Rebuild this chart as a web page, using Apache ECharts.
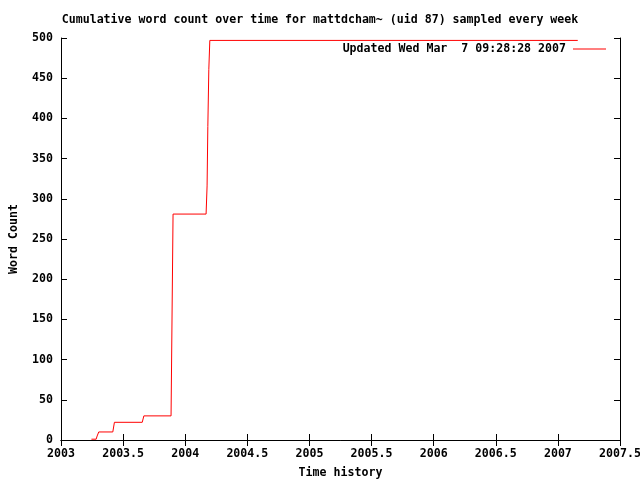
<!DOCTYPE html>
<html><head><meta charset="utf-8">
<script src="https://cdn.jsdelivr.net/npm/echarts@6/dist/echarts.min.js"></script>
<style>html,body{margin:0;padding:0;background:#fff}#c{width:640px;height:480px}</style>
</head><body><div id="c"></div>
<script>
var years = [2003.245, 2003.283, 2003.291, 2003.304, 2003.417, 2003.43, 2003.654, 2003.667, 2003.886, 2003.902, 2004.168, 2004.176, 2004.182, 2004.19, 2004.198, 2007.16];
var counts = [1, 1, 5, 10, 10, 22, 22, 30, 30, 281, 281, 316, 390, 461, 497, 497];
var xTicks = ['2003','2003.5','2004','2004.5','2005','2005.5','2006','2006.5','2007','2007.5'];
var yTicks = [0,50,100,150,200,250,300,350,400,450,500];
var title = 'Cumulative word count over time for mattdcham~ (uid 87) sampled every week';
var seriesName = 'Updated Wed Mar  7 09:28:28 2007';

var FONT = 'DejaVu Sans Mono';
var FS = 11.6;
var pts = years.map(function(y,i){return [y, counts[i]];});
var axisLine = {show:true, lineStyle:{color:'#000', width:1}};
var tick = {show:true, inside:true, length:6, lineStyle:{color:'#000', width:1}};
var chart = echarts.init(document.getElementById('c'), null, {renderer:'canvas'});
chart.setOption({
  animation:false,
  backgroundColor:'#fff',
  title:{text:title, left:'center', top:9, textStyle:{fontFamily:FONT, fontSize:FS, fontWeight:'bold', color:'#000'}},
  legend:{data:[seriesName], right:29, top:38, align:'right', itemWidth:33, itemHeight:1, icon:'rect', itemGap:0,
    textStyle:{fontFamily:FONT, fontSize:FS, fontWeight:'bold', color:'#000', padding:[0,2,0,0]}},
  grid:{left:61, right:20, top:38, bottom:40, containLabel:false, outerBoundsMode:'none', show:false},
  xAxis:[{type:'value', min:2003, max:2007.5, interval:0.5, axisLine:axisLine, axisTick:tick, splitLine:{show:false},
    name:'Time history', nameLocation:'middle', nameGap:27,
    nameTextStyle:{fontFamily:FONT, fontSize:FS, fontWeight:'bold', color:'#000'},
    axisLabel:{margin:8, fontFamily:FONT, fontSize:FS, fontWeight:'bold', color:'#000', hideOverlap:false,
      formatter:function(v){var i=Math.round((v-2003)/0.5); return xTicks[i]!==undefined?xTicks[i]:'';}}},
    {type:'value', position:'top', min:2003, max:2007.5, interval:0.5, axisLine:axisLine, axisTick:tick, axisLabel:{show:false}, splitLine:{show:false}}],
  yAxis:[{type:'value', min:0, max:500, interval:50, axisLine:axisLine, axisTick:tick, splitLine:{show:false},
    name:'Word Count', nameLocation:'middle', nameGap:41, nameRotate:90,
    nameTextStyle:{fontFamily:FONT, fontSize:FS, fontWeight:'bold', color:'#000'},
    axisLabel:{margin:8, fontFamily:FONT, fontSize:FS, fontWeight:'bold', color:'#000',
      formatter:function(v){return yTicks.indexOf(v)>=0?String(v):'';}}},
    {type:'value', position:'right', min:0, max:500, interval:50, axisLine:axisLine, axisTick:tick, axisLabel:{show:false}, splitLine:{show:false}}],
  series:[{name:seriesName, type:'line', data:pts, showSymbol:false, symbol:'none',
    lineStyle:{color:'#ff0000', width:1}, itemStyle:{color:'#ff0000'}}]
});
</script></body></html>
